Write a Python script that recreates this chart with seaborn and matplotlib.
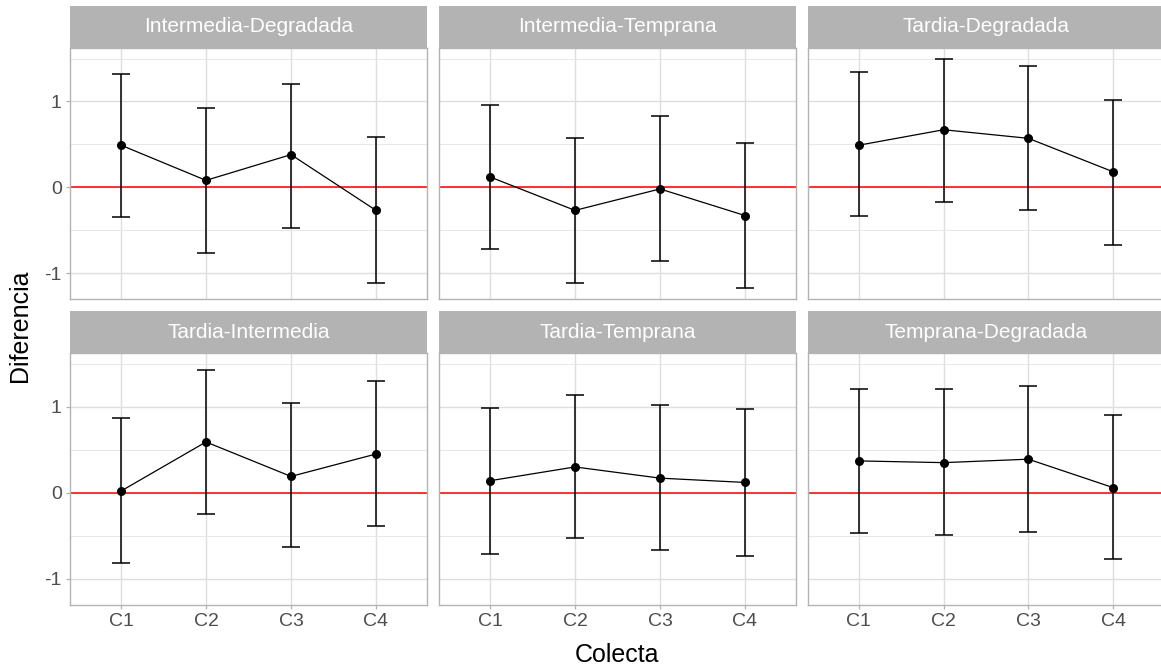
import numpy as np
import pandas as pd
import matplotlib
matplotlib.use("Agg")
import matplotlib.pyplot as plt
import seaborn as sns
from matplotlib.patches import Rectangle
from matplotlib.ticker import MultipleLocator, FixedLocator

sns.set_theme(style="white")
plt.rcParams["font.family"] = ["Liberation Sans", "DejaVu Sans"]
plt.rcParams["axes.unicode_minus"] = False

comparaciones = ["Intermedia-Degradada", "Intermedia-Temprana", "Tardia-Degradada",
                 "Tardia-Intermedia", "Tardia-Temprana", "Temprana-Degradada"]
colectas = ["C1", "C2", "C3", "C4"]

media_int_deg = [0.49, 0.08, 0.38, -0.27]
inf_int_deg = [-0.35, -0.77, -0.47, -1.12]
sup_int_deg = [1.32, 0.92, 1.20, 0.58]

media_int_tem = [0.12, -0.27, -0.02, -0.33]
inf_int_tem = [-0.72, -1.12, -0.86, -1.17]
sup_int_tem = [0.96, 0.57, 0.83, 0.51]

media_tar_deg = [0.49, 0.67, 0.57, 0.18]
inf_tar_deg = [-0.33, -0.17, -0.27, -0.67]
sup_tar_deg = [1.34, 1.49, 1.41, 1.02]

media_tar_int = [0.02, 0.59, 0.19, 0.45]
inf_tar_int = [-0.82, -0.25, -0.63, -0.39]
sup_tar_int = [0.87, 1.42, 1.04, 1.30]

media_tar_tem = [0.14, 0.30, 0.17, 0.12]
inf_tar_tem = [-0.71, -0.53, -0.67, -0.73]
sup_tar_tem = [0.98, 1.14, 1.02, 0.97]

media_tem_deg = [0.37, 0.35, 0.39, 0.06]
inf_tem_deg = [-0.47, -0.49, -0.45, -0.77]
sup_tem_deg = [1.20, 1.20, 1.24, 0.90]

medias = [media_int_deg, media_int_tem, media_tar_deg, media_tar_int, media_tar_tem, media_tem_deg]
inferiores = [inf_int_deg, inf_int_tem, inf_tar_deg, inf_tar_int, inf_tar_tem, inf_tem_deg]
superiores = [sup_int_deg, sup_int_tem, sup_tar_deg, sup_tar_int, sup_tar_tem, sup_tem_deg]

rows = []
for comp, m, lo, hi in zip(comparaciones, medias, inferiores, superiores):
    for i, c in enumerate(colectas):
        rows.append(dict(Comparacion=comp, Colecta=c, pos=i, Diferencia=m[i], lo=lo[i], hi=hi[i]))
df = pd.DataFrame(rows)

W, H = 1161, 668
g = sns.FacetGrid(df, col="Comparacion", col_order=comparaciones, col_wrap=3,
                  sharex=True, sharey=True, height=3, aspect=1.3)
g.figure.set_size_inches(W / 100, H / 100)
g.figure.set_dpi(100)


def draw(data, **kw):
    ax = plt.gca()
    ax.axhline(0, color="red", lw=1.1, zorder=2)
    ax.errorbar(data["pos"], data["Diferencia"],
                yerr=[data["Diferencia"] - data["lo"], data["hi"] - data["Diferencia"]],
                fmt="none", ecolor="black", elinewidth=1.1, capsize=6.5, capthick=1.1, zorder=3)
    sns.lineplot(data=data, x="pos", y="Diferencia", color="black", lw=0.9,
                 marker="o", markersize=6.5, markeredgewidth=0, ax=ax, zorder=4)


g.map_dataframe(draw)

ymin = df["lo"].min()
ymax = df["hi"].max()
pad = (ymax - ymin) * 0.05

col_px = [(70, 427), (439, 796), (808, 1164)]
row_px = [(48, 299), (353, 605)]
strip_px = 42

for k, ax in enumerate(g.axes.flat):
    r, c = divmod(k, 3)
    x0, x1 = col_px[c]
    y0, y1 = row_px[r]
    ax.set_position([x0 / W, 1 - y1 / H, (x1 - x0) / W, (y1 - y0) / H])
    ax.set_xlim(-0.6, len(colectas) - 1 + 0.6)
    ax.set_ylim(ymin - pad, ymax + pad)
    ax.xaxis.set_major_locator(FixedLocator(range(len(colectas))))
    ax.set_xticklabels(colectas)
    ax.yaxis.set_major_locator(MultipleLocator(1))
    ax.yaxis.set_minor_locator(MultipleLocator(0.5))
    ax.set_axisbelow(True)
    ax.grid(which="major", color="#DEDEDE", lw=1.0)
    ax.grid(which="minor", axis="y", color="#E8E8E8", lw=0.7)
    for s in ax.spines.values():
        s.set_visible(True)
        s.set_color("#B3B3B3")
        s.set_linewidth(1.0)
    ax.tick_params(which="major", length=3, width=0.9, color="#B3B3B3",
                   labelsize=14, labelcolor="#4D4D4D", pad=3,
                   bottom=(r == 1), left=(c == 0),
                   labelbottom=(r == 1), labelleft=(c == 0))
    ax.tick_params(which="minor", length=0)
    ax.set_xlabel("")
    ax.set_ylabel("")
    ax.set_title("")
    h = strip_px / (y1 - y0)
    ax.add_patch(Rectangle((0, 1), 1, h, transform=ax.transAxes, clip_on=False,
                           facecolor="#B3B3B3", edgecolor="none", zorder=5))
    ax.text(0.5, 1 + h / 2, comparaciones[k], transform=ax.transAxes,
            ha="center", va="center", color="white", fontsize=15, zorder=6)

g.figure.text(20 / W, 1 - 326 / H, "Diferencia", rotation=90, ha="center", va="center",
              fontsize=18, color="black")
g.figure.text(617 / W, 1 - 655 / H, "Colecta", ha="center", va="center",
              fontsize=18, color="black")

g.figure.savefig("out.png", dpi=100, facecolor="white")
